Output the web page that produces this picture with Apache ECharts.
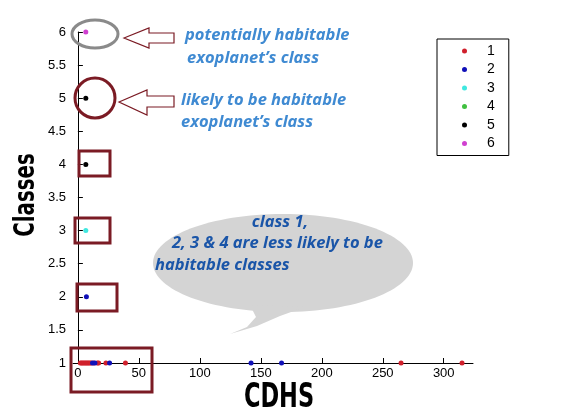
<!DOCTYPE html>
<html>
<head>
<meta charset="utf-8">
<script src="https://cdn.jsdelivr.net/npm/echarts@6/dist/echarts.min.js"></script>
<style>
  html, body { margin: 0; padding: 0; background: #fff; }
  #chart { width: 561px; height: 420px; }
</style>
</head>
<body>
<div id="chart"></div>
<script>
// 数据：CDHS 值与所属类别
var class1 = [[2, 1], [3, 1], [4, 1], [5, 1], [6, 1], [7, 1], [8, 1], [9, 1], [10, 1], [11, 1],
              [13, 1], [16, 1], [17, 1], [23, 1], [39, 1], [265, 1], [315, 1]];
var class2 = [[7, 2], [12, 1], [14, 1], [26, 1], [142, 1], [167, 1]];
var class3 = [[6.5, 3]];
var class4 = [];
var class5 = [[6.5, 4], [6.5, 5]];
var class6 = [[6.5, 6]];
var seriesNames = ['1', '2', '3', '4', '5', '6'];
var seriesColors = ['#d0202c', '#1010b8', '#40e8e0', '#40c040', '#000000', '#d040d0'];
var xTicks = [0, 50, 100, 150, 200, 250, 300];

var chart = echarts.init(document.getElementById('chart'));

var allData = [class1, class2, class3, class4, class5, class6];
var series = allData.map(function (d, i) {
  return {
    name: seriesNames[i],
    type: 'scatter',
    data: d,
    symbol: 'circle',
    symbolSize: 5,
    itemStyle: { color: seriesColors[i], opacity: 1 },
    z: 3
  };
});

var darkRed = '#7b1b24';
var lightBlue = '#3f8ad2';
var darkBlue = '#1a55a8';
var noteFont = "'Open Sans', sans-serif";

function note(text, x, y, color, align) {
  return { type: 'text', x: x, y: y, z: 6,
    style: { text: text, fontSize: 16.5, fontWeight: 'bold', fontStyle: 'italic',
      fontFamily: noteFont, fill: color, textAlign: align || 'left', textVerticalAlign: 'middle' } };
}

var option = {
  backgroundColor: '#fff',
  animation: false,
  grid: { left: 73, right: 88, top: 32, bottom: 57 },
  xAxis: {
    type: 'value',
    min: -4,
    max: 324,
    splitLine: { show: false },
    axisLine: { lineStyle: { color: '#000', width: 1 } },
    axisTick: { inside: true, length: 5, customValues: xTicks, lineStyle: { color: '#000' } },
    axisLabel: { customValues: xTicks, margin: 4, color: '#000', fontSize: 13, fontFamily: 'Liberation Sans, Arial, sans-serif' }
  },
  yAxis: {
    type: 'value',
    min: 1,
    max: 6,
    interval: 0.5,
    splitLine: { show: false },
    axisLine: { show: true, lineStyle: { color: '#000', width: 1 } },
    axisTick: { show: true, inside: true, length: 5, lineStyle: { color: '#000' } },
    axisLabel: { margin: 7, color: '#000', fontSize: 13, fontFamily: 'Liberation Sans, Arial, sans-serif',
      formatter: function (v) { return String(v); } }
  },
  legend: {
    data: seriesNames,
    orient: 'vertical',
    left: 437,
    top: 39,
    backgroundColor: '#fff',
    borderColor: '#000',
    borderWidth: 1,
    padding: [5, 14, 5, 25],
    itemWidth: 5,
    itemHeight: 5,
    itemGap: 4.5,
    icon: 'circle',
    textStyle: { fontSize: 14, lineHeight: 14, color: '#000', padding: [0, 0, 0, 15], fontFamily: 'Liberation Sans, Arial, sans-serif' }
  },
  series: series,
  graphic: [
    // 坐标轴标题
    { type: 'text', x: 27, y: 195, rotation: Math.PI / 2, scaleY: 1.3, z: 10,
      style: { text: 'Classes', fontSize: 22, fontWeight: 'bold', fontFamily: "'DejaVu Sans Condensed', 'Liberation Sans Narrow', sans-serif",
        fill: '#000', textAlign: 'center', textVerticalAlign: 'middle' } },
    { type: 'text', x: 279, y: 398, scaleY: 1.35, z: 10,
      style: { text: 'CDHS', fontSize: 25, fontWeight: 'bold', fontFamily: "'DejaVu Sans Condensed', 'Liberation Sans Narrow', sans-serif",
        fill: '#000', textAlign: 'center', textVerticalAlign: 'middle' } },
    // 标注框
    { type: 'ellipse', shape: { cx: 95, cy: 34, rx: 23, ry: 14 }, z: 5,
      style: { fill: null, stroke: '#8a8a8a', lineWidth: 3 } },
    { type: 'circle', shape: { cx: 95, cy: 98, r: 20 }, z: 5,
      style: { fill: null, stroke: darkRed, lineWidth: 3 } },
    { type: 'rect', shape: { x: 79, y: 151, width: 31, height: 25 }, z: 5,
      style: { fill: null, stroke: darkRed, lineWidth: 3 } },
    { type: 'rect', shape: { x: 75, y: 218, width: 35, height: 25 }, z: 5,
      style: { fill: null, stroke: darkRed, lineWidth: 3 } },
    { type: 'rect', shape: { x: 77, y: 284, width: 40, height: 27 }, z: 5,
      style: { fill: null, stroke: darkRed, lineWidth: 3 } },
    { type: 'rect', shape: { x: 71, y: 348, width: 81, height: 44 }, z: 5,
      style: { fill: null, stroke: darkRed, lineWidth: 3 } },
    // 箭头
    { type: 'polygon', z: 5,
      shape: { points: [[124, 38], [149, 28], [149, 33], [174, 33], [174, 43], [149, 43], [149, 48]] },
      style: { fill: '#fff', stroke: darkRed, lineWidth: 1.2 } },
    { type: 'polygon', z: 5,
      shape: { points: [[119, 102], [147, 90], [147, 96], [174, 96], [174, 107], [147, 107], [147, 115]] },
      style: { fill: '#fff', stroke: darkRed, lineWidth: 1.2 } },
    // 说明文字
    note('potentially habitable', 185, 35, lightBlue),
    note('exoplanet\u2019s class', 187, 58, lightBlue),
    note('likely to be habitable', 181, 100, lightBlue),
    note('exoplanet\u2019s class', 181, 122, lightBlue),
    // 对话气泡
    { type: 'ellipse', shape: { cx: 283, cy: 263, rx: 130, ry: 49 }, z: 4,
      style: { fill: '#d4d4d4', stroke: null } },
    { type: 'polygon', z: 4,
      shape: { points: [[250, 305], [256, 317], [247, 327], [230, 334], [257, 326], [280, 316], [305, 307]] },
      style: { fill: '#d4d4d4', stroke: null } },
    note('class 1,', 280, 222, darkBlue, 'center'),
    note('2, 3 & 4 are less likely to be', 172, 243, darkBlue),
    note('habitable classes', 155, 265, darkBlue)
  ]
};

chart.setOption(option);
</script>
</body>
</html>
